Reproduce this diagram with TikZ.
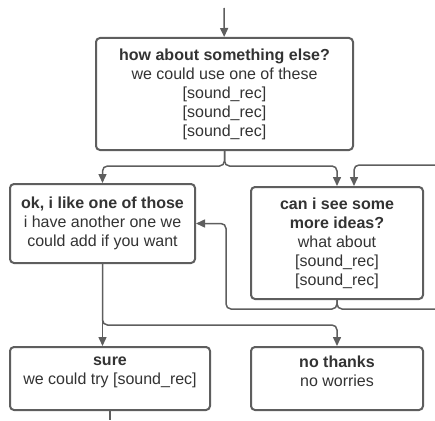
\documentclass[tikz,border=0pt]{standalone}
\usepackage{fontspec}
\setmainfont{Liberation Sans}
\usepackage{tikz}
\usetikzlibrary{arrows.meta, positioning, calc}
\definecolor{Line}{HTML}{5E5E5E}
\definecolor{Ink} {HTML}{333333}
\tikzset{
  blk/.style={draw=Line, line width=2pt, rounded corners=4pt, fill=white, align=center,
              text=Ink, inner sep=0pt, font=\fontsize{16}{19}\selectfont},
  arr/.style={-{Triangle[width=8pt,length=9pt]}, line width=1.5pt, draw=Line, rounded corners=5pt},
  wire/.style={line width=1.5pt, draw=Line, rounded corners=5pt}
}

\begin{document}
\begin{tikzpicture}[x=1pt,y=1pt]
  \useasboundingbox (0,0) rectangle (435,-420);
  \node[blk,minimum width=257pt,minimum height=112pt] (how) at (224.5,-94)
    {\textbf{how about something else?}\\we could use one of these\\{}[sound\_rec]\\{}[sound\_rec]\\{}[sound\_rec]};
  \node[blk,minimum width=185pt,minimum height=79pt] (ok) at (102.5,-223.5)
    {\textbf{ok, i like one of those}\\i have another one we\\could add if you want};
  \node[blk,minimum width=172pt,minimum height=112pt,right=54pt of ok,yshift=-19.5pt] (more)
    {\textbf{can i see some}\\\textbf{more ideas?}\\what about\\{}[sound\_rec]\\{}[sound\_rec]};
  \node[blk,minimum width=200pt,minimum height=63pt,text depth=15pt] (sure) at (110,-378.5)
    {\textbf{sure}\\we could try [sound\_rec]};
  \node[blk,minimum width=172pt,minimum height=63pt,text depth=15pt,right=39pt of sure] (nothx)
    {\textbf{no thanks}\\no worries};
  \coordinate (in)   at (224,-8);
  \coordinate (rin)  at (435,-165);
  \coordinate (back) at (226,-309);
  \coordinate (rout) at (435,-309);
  \coordinate (out)  at (110,-420);
  \draw[arr] (in) -- (how);
  \draw[arr] (how.south) -- ++(0,-15) -| (ok.north);
  \draw[arr] (how.south) -- ++(0,-15) -| (more.north);
  \draw[arr] (rin) -| ([xshift=17pt]more.north);
  \draw[arr] (more.south) |- (back) |- (ok.east);
  \draw[wire] (more.south) |- (rout);
  \draw[arr] (ok.south) -- (ok.south |- sure.north);
  \draw[arr] (ok.south) -- ++(0,-61) -| (nothx.north);
  \draw[wire] (sure.south) -- (out);
\end{tikzpicture}
\end{document}
